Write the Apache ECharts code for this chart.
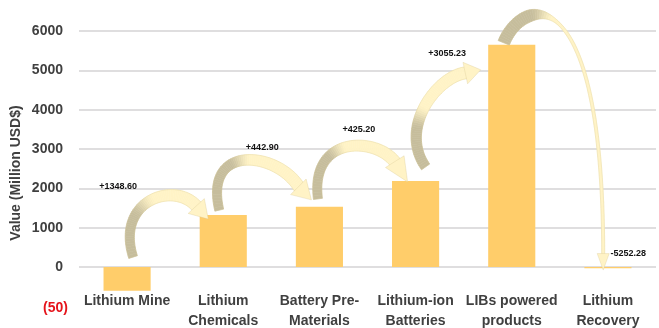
<!DOCTYPE html>
<html>
<head>
<meta charset="utf-8">
<script src="https://cdn.jsdelivr.net/npm/echarts@6/dist/echarts.min.js"></script>
<style>
  html, body { margin: 0; padding: 0; background: #ffffff; }
  #chart { width: 659px; height: 328px; }
</style>
</head>
<body>
<div id="chart"></div>
<script>
// Lithium value chain, value added at each stage (million USD$)
const categories = [
  'Lithium Mine',
  'Lithium\nChemicals',
  'Battery Pre-\nMaterials',
  'Lithium-ion\nBatteries',
  'LIBs powered\nproducts',
  'Lithium\nRecovery'
];
const barValues = [-600, 1320, 1530, 2190, 5650, -30];
const stepLabels = ['+1348.60', '+442.90', '+425.20', '+3055.23', '-5252.28'];

const yMin = -1000;
const yMax = 6000;
const yStep = 1000;
const belowZeroTick = '(50)';

// Curved ribbon arrows between consecutive bars. Offsets are in pixels,
// measured from the top of the bar the arrow leaves (tail, label) or
// reaches (head, tip); c1/c2 are Bezier handles relative to tail/head.
const arrowShapes = [
  { tail: [6, -10],   c1: [-18, -57], head: [-26, -8],  c2: [-22, -27], tip: [-15, 4],
    w: [9, 12],  taper: [0, 1],     fade: [0.30, 0.55], headHalf: 11, label: [-9, -81] },
  { tail: [-4, -5],   c1: [-16, -68], head: [-20, -19], c2: [-21, -36], tip: [-8, -7],
    w: [9, 12],  taper: [0, 1],     fade: [0.35, 0.55], headHalf: 11, label: [39, -68] },
  { tail: [-1.5, -8], c1: [-8, -65],  head: [-20, -18], c2: [-18, -26], tip: [-8, 1],
    w: [9, 12],  taper: [0, 1],     fade: [0.30, 0.50], headHalf: 11, label: [39.5, -77.4] },
  { tail: [10, -14],  c1: [-28, -40], head: [-45, 28],  c2: [-28, 2],   tip: [-31, 25],
    w: [10, 12], taper: [0, 1],     fade: [0.30, 0.50], headHalf: 11, label: [31.5, -127.4] },
  { tail: [-8, -2],   c1: [18, -45],  head: [-4.7, -12], c2: [0, -285], tip: [-4.7, 3],
    w: [12, 3],  taper: [0.25, 0.5], fade: [0.28, 0.45], headHalf: 6, label: [116.6, 209.2] }
];

const GRAY = [198, 189, 156];
const PALE = [255, 243, 198];
const FONT = '"Liberation Sans", Arial, sans-serif';

function mix(a, b, k) {
  return 'rgb(' + a.map((v, j) => Math.round(v + (b[j] - v) * k)).join(',') + ')';
}
function smooth(e0, e1, t) {
  const x = Math.min(1, Math.max(0, (t - e0) / (e1 - e0)));
  return x * x * (3 - 2 * x);
}
function add(p, q) { return [p[0] + q[0], p[1] + q[1]]; }

function renderArrow(params, api) {
  const i = params.dataIndex;
  const s = arrowShapes[i];
  const A = api.coord([i, Math.max(barValues[i], 0)]);
  const B = api.coord([i + 1, Math.max(barValues[i + 1], 0)]);
  const p0 = add(A, s.tail);
  const c1 = add(p0, s.c1);
  const p3 = add(B, s.head);
  const c2 = add(p3, s.c2);
  const tip = add(B, s.tip);

  const N = 60;
  const left = [], right = [];
  for (let k = 0; k <= N; k++) {
    const t = k / N, u = 1 - t;
    const pt = [
      u * u * u * p0[0] + 3 * u * u * t * c1[0] + 3 * u * t * t * c2[0] + t * t * t * p3[0],
      u * u * u * p0[1] + 3 * u * u * t * c1[1] + 3 * u * t * t * c2[1] + t * t * t * p3[1]
    ];
    const d = [
      3 * u * u * (c1[0] - p0[0]) + 6 * u * t * (c2[0] - c1[0]) + 3 * t * t * (p3[0] - c2[0]),
      3 * u * u * (c1[1] - p0[1]) + 6 * u * t * (c2[1] - c1[1]) + 3 * t * t * (p3[1] - c2[1])
    ];
    const len = Math.hypot(d[0], d[1]) || 1;
    const n = [-d[1] / len, d[0] / len];
    const w = (s.w[0] + (s.w[1] - s.w[0]) * smooth(s.taper[0], s.taper[1], t)) / 2;
    left.push([pt[0] + n[0] * w, pt[1] + n[1] * w]);
    right.push([pt[0] - n[0] * w, pt[1] - n[1] * w]);
  }

  const children = [];
  for (let k = 0; k < N; k++) {
    const col = mix(GRAY, PALE, smooth(s.fade[0], s.fade[1], (k + 0.5) / N));
    children.push({
      type: 'polygon',
      shape: { points: [left[k], left[k + 1], right[k + 1], right[k]] },
      style: { fill: col, stroke: col, lineWidth: 0.6 }
    });
  }
  children.push({
    type: 'polygon',
    shape: { points: left.concat(right.slice().reverse()) },
    style: { fill: 'none', stroke: 'rgba(210,195,140,0.45)', lineWidth: 0.6 }
  });

  const dx = tip[0] - p3[0], dy = tip[1] - p3[1];
  const dl = Math.hypot(dx, dy) || 1;
  const ux = dx / dl, uy = dy / dl;
  const nx = -uy, ny = ux;
  const base = [p3[0] - ux * 1.5, p3[1] - uy * 1.5];
  children.push({
    type: 'polygon',
    shape: { points: [
      [base[0] + nx * s.headHalf, base[1] + ny * s.headHalf],
      tip,
      [base[0] - nx * s.headHalf, base[1] - ny * s.headHalf]
    ] },
    style: { fill: mix(GRAY, PALE, 1), stroke: 'rgba(210,195,140,0.5)', lineWidth: 0.6 }
  });

  const L = add(A, s.label);
  children.push({
    type: 'text',
    x: L[0], y: L[1],
    style: {
      text: stepLabels[i], fill: '#111111',
      font: 'bold 9px ' + FONT, align: 'center', verticalAlign: 'middle'
    }
  });
  return { type: 'group', children };
}

const chart = echarts.init(document.getElementById('chart'), null, { renderer: 'canvas' });

chart.setOption({
  animation: false,
  backgroundColor: '#ffffff',
  grid: { left: 79, right: 3, top: 31, bottom: 21.6, containLabel: false, outerBoundsMode: 'none' },
  xAxis: {
    type: 'category',
    data: categories,
    // category labels sit just under the zero line
    offset: -39.3,
    axisLine: { show: false, onZero: false },
    axisTick: { show: false },
    axisLabel: {
      interval: 0, margin: 24, color: '#404040',
      fontFamily: FONT, fontWeight: 'bold', fontSize: 14, lineHeight: 20
    }
  },
  yAxis: {
    type: 'value',
    min: yMin, max: yMax, interval: yStep,
    axisLine: { show: false },
    axisTick: { show: false },
    splitLine: { show: true, showMinLine: false, lineStyle: { color: '#D5D3D5', width: 1.5 } },
    axisLabel: {
      margin: 16, color: '#404040',
      fontFamily: FONT, fontWeight: 'bold', fontSize: 14,
      formatter: v => (v === yMin ? '' : String(v))
    }
  },
  series: [
    {
      type: 'bar',
      data: barValues,
      barWidth: '49%',
      itemStyle: { color: '#FFCD6A' },
      z: 2
    },
    {
      type: 'custom',
      data: stepLabels.map((_, i) => [i, 0]),
      encode: { x: 0, y: 1 },
      renderItem: renderArrow,
      clip: false,
      silent: true,
      z: 3
    }
  ]
});

// axis title and the below-zero tick label
const negY = chart.convertToPixel({ yAxisIndex: 0 }, yMin);
chart.setOption({
  graphic: [
    {
      type: 'text', x: 16, y: 173, rotation: Math.PI / 2,
      style: {
        text: 'Value (Million USD$)', fill: '#404040',
        font: 'bold 14px ' + FONT, align: 'center', verticalAlign: 'middle'
      }
    },
    {
      type: 'text', x: 68, y: negY + 1.5,
      style: {
        text: belowZeroTick, fill: '#E5141B',
        font: 'bold 14px ' + FONT, align: 'right', verticalAlign: 'middle'
      }
    }
  ]
});
</script>
</body>
</html>
